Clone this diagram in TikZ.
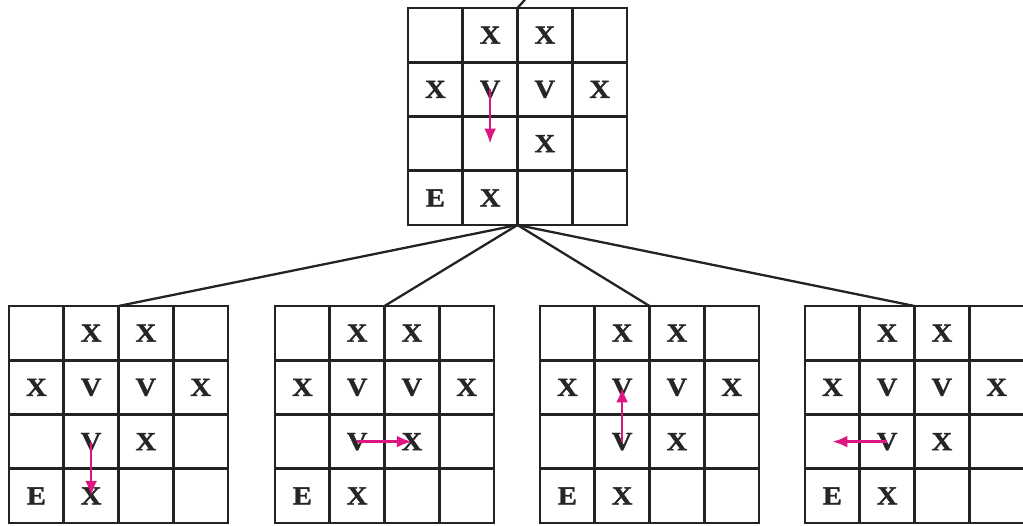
\documentclass[tikz,border=0pt]{standalone}
\usepackage{fontspec}
\newfontfamily\cellfont{Liberation Serif}[FakeStretch=1.1,FakeBold=1.2]
\usetikzlibrary{arrows.meta,calc}
\definecolor{arrowmag}{RGB}{222,22,130}
\definecolor{gridline}{RGB}{35,35,35}
\tikzset{
  gridbox/.style={draw=gridline, line width=2.8pt, minimum width=219pt, minimum height=217pt, inner sep=0pt, outer sep=0pt},
  cellline/.style={draw=gridline, line width=2.8pt},
  letter/.style={font=\cellfont\fontsize{26}{28}\selectfont\bfseries, inner sep=0pt, text=black!85},
  branch/.style={draw=gridline, line width=2.3pt},
  move/.style={draw=arrowmag, line width=2.6pt, -{Latex[length=15pt,width=12pt]}},
}
\newcommand\mygrid[3]{%
  \node[gridbox, anchor=north west] (#1) at (#2,#3) {};
  \foreach \i in {1,2,3}{
    \draw[cellline] ($(#1.north west)+(\i*54.75,0)$) -- ($(#1.south west)+(\i*54.75,0)$);
    \draw[cellline] ($(#1.north west)+(0,\i*54.25)$) -- ($(#1.north east)+(0,\i*54.25)$);
  }
  \foreach \c in {1,...,4}{\foreach \r in {1,...,4}{
    \coordinate (#1-\c-\r) at ($(#1.north west)+(\c*54.75-27.375,\r*54.25-27.125)$);
  }}
  \foreach \c/\r/\t in {2/1/X,3/1/X,1/2/X,2/2/V,3/2/V,4/2/X,3/3/X,1/4/E,2/4/X}{
    \node[letter] (#1-\c-\r-txt) at (#1-\c-\r) {\t};
  }
}
\begin{document}
\begin{tikzpicture}[x=1pt,y=-1pt]
\useasboundingbox (0,0) rectangle (1023,525);
\mygrid{t}{408}{8}
\mygrid{a}{9}{306}
\mygrid{b}{275}{306}
\mygrid{c}{540}{306}
\mygrid{d}{805}{306}
\foreach \g in {a,b,c,d}{\node[letter] (\g-2-3-txt) at (\g-2-3) {V};}
\coordinate (parent) at (537,-14);
\draw[branch] (t.north) -- (parent);
\foreach \g in {a,b,c,d}{\draw[branch] (t.south) -- (\g.north);}
\draw[move] (t-2-2) -- (t-2-3);
\draw[move] (a-2-3) -- (a-2-4);
\draw[move] (b-2-3) -- (b-3-3);
\draw[move] (c-2-3) -- (c-2-2);
\draw[move] (d-2-3) -- (d-1-3);
\end{tikzpicture}
\end{document}
